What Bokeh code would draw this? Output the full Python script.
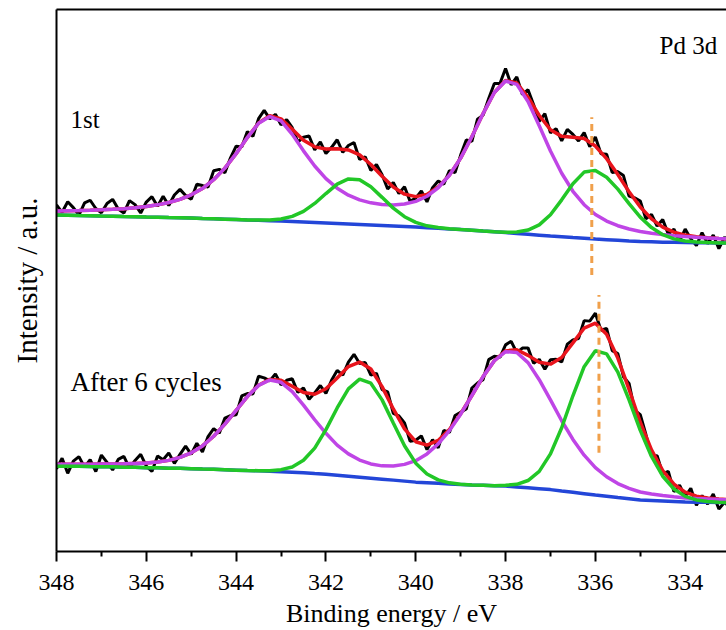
from bokeh.plotting import figure
from bokeh.models import Range1d, FixedTicker, LinearAxis
from bokeh.embed import file_html
from bokeh.resources import INLINE
from bokeh.core.properties import value

# ---------------- data ----------------
# binding energy grid of the fitted curves (eV)
fit_energy = [348.0, 347.75, 347.5, 347.25, 347.0, 346.75, 346.5, 346.25, 346.0, 345.75,
              345.5, 345.25, 345.0, 344.75, 344.5, 344.25, 344.0, 343.75, 343.5, 343.25,
              343.0, 342.75, 342.5, 342.25, 342.0, 341.75, 341.5, 341.25, 341.0, 340.75,
              340.5, 340.25, 340.0, 339.75, 339.5, 339.25, 339.0, 338.75, 338.5, 338.25,
              338.0, 337.75, 337.5, 337.25, 337.0, 336.75, 336.5, 336.25, 336.0, 335.75,
              335.5, 335.25, 335.0, 334.75, 334.5, 334.25, 334.0, 333.75, 333.5, 333.25, 333.0]

# binding energy grid of the measured spectra (eV)
raw_energy = [348.0, 347.875, 347.75, 347.625, 347.5, 347.375, 347.25, 347.125, 347.0, 346.875,
              346.75, 346.625, 346.5, 346.375, 346.25, 346.125, 346.0, 345.875, 345.75, 345.625,
              345.5, 345.375, 345.25, 345.125, 345.0, 344.875, 344.75, 344.625, 344.5, 344.375,
              344.25, 344.125, 344.0, 343.875, 343.75, 343.625, 343.5, 343.375, 343.25, 343.125,
              343.0, 342.875, 342.75, 342.625, 342.5, 342.375, 342.25, 342.125, 342.0, 341.875,
              341.75, 341.625, 341.5, 341.375, 341.25, 341.125, 341.0, 340.875, 340.75, 340.625,
              340.5, 340.375, 340.25, 340.125, 340.0, 339.875, 339.75, 339.625, 339.5, 339.375,
              339.25, 339.125, 339.0, 338.875, 338.75, 338.625, 338.5, 338.375, 338.25, 338.125,
              338.0, 337.875, 337.75, 337.625, 337.5, 337.375, 337.25, 337.125, 337.0, 336.875,
              336.75, 336.625, 336.5, 336.375, 336.25, 336.125, 336.0, 335.875, 335.75, 335.625,
              335.5, 335.375, 335.25, 335.125, 335.0, 334.875, 334.75, 334.625, 334.5, 334.375,
              334.25, 334.125, 334.0, 333.875, 333.75, 333.625, 333.5, 333.375, 333.25, 333.125, 333.0]

# ---- "1st" spectrum (upper) ----
first_background = [337.0, 336.8, 336.5, 336.3, 336.0, 335.8, 335.5, 335.3, 335.0, 334.8,
                    334.5, 334.3, 334.0, 333.6, 333.3, 332.9, 332.5, 332.1, 331.8, 331.4,
                    331.0, 330.5, 330.0, 329.5, 329.0, 328.5, 328.0, 327.5, 327.0, 326.5,
                    326.0, 325.5, 325.0, 324.4, 323.8, 323.1, 322.5, 321.8, 321.0, 320.3,
                    319.5, 318.6, 317.8, 316.9, 316.0, 315.3, 314.5, 313.8, 313.0, 312.4,
                    311.8, 311.1, 310.5, 310.2, 309.9, 309.7, 309.5, 309.4, 309.3, 309.1, 309.0]
first_pd0 = [337.0, 336.8, 336.5, 336.3, 336.0, 335.8, 335.5, 335.3, 335.0, 334.8,
             334.5, 334.3, 334.0, 333.6, 333.3, 332.9, 332.5, 332.1, 332.0, 332.2,
             333.1, 335.7, 340.7, 348.7, 358.6, 368.0, 373.3, 372.5, 365.4, 354.8,
             344.0, 335.4, 329.7, 326.3, 324.5, 323.3, 322.5, 321.8, 321.0, 320.3,
             319.9, 320.0, 322.0, 327.2, 337.3, 352.3, 368.5, 380.1, 381.6, 375.0,
             363.0, 348.5, 335.0, 324.5, 317.4, 313.2, 311.0, 310.0, 309.5, 309.1, 309.0]
first_pd2 = [341.2, 341.4, 341.6, 341.9, 342.3, 342.8, 343.5, 344.5, 345.6, 347.3,
             349.6, 352.8, 357.4, 363.6, 372.5, 384.1, 398.6, 414.7, 429.0, 435.7,
             431.3, 417.9, 401.4, 386.2, 373.6, 364.0, 357.0, 352.3, 349.3, 347.6,
             347.2, 348.1, 350.8, 355.9, 364.4, 376.9, 394.1, 415.5, 438.7, 459.8,
             471.4, 468.0, 450.9, 426.5, 401.2, 378.9, 360.9, 347.4, 337.6, 331.0,
             326.4, 323.1, 320.6, 318.9, 317.5, 316.4, 315.5, 314.8, 314.2, 313.5, 313.1]
first_envelope = [341.2, 341.4, 341.6, 341.9, 342.3, 342.8, 343.5, 344.5, 345.6, 347.3,
                  349.6, 352.8, 357.4, 363.6, 372.5, 384.1, 398.6, 414.7, 429.2, 436.5,
                  433.4, 423.1, 412.1, 405.4, 403.2, 403.5, 402.3, 397.3, 387.7, 375.9,
                  365.2, 358.0, 355.5, 357.8, 365.1, 377.1, 394.1, 415.5, 438.7, 459.8,
                  471.8, 469.4, 455.1, 436.8, 422.5, 415.9, 414.9, 413.7, 406.2, 393.6,
                  377.6, 360.5, 345.1, 333.2, 325.0, 319.9, 317.0, 315.4, 314.4, 313.5, 313.1]
first_measured = [347.2, 339.8, 350.4, 344.5, 337.1, 349.3, 351.9, 343.6, 339.3, 348.6,
                  352.8, 343.2, 339.0, 351.5, 347.5, 339.1, 350.1, 355.5, 345.8, 356.0,
                  346.6, 357.2, 362.8, 356.6, 352.9, 368.0, 366.6, 365.1, 381.5, 382.8,
                  379.6, 394.4, 406.1, 405.2, 420.7, 416.0, 433.7, 441.9, 433.5, 438.0,
                  427.4, 432.8, 424.6, 410.1, 415.1, 416.3, 402.4, 410.3, 398.7, 404.9,
                  412.5, 399.9, 406.8, 409.8, 392.8, 395.5, 381.7, 387.8, 377.4, 363.1,
                  369.7, 358.6, 365.5, 350.8, 354.0, 361.2, 350.3, 364.5, 371.1, 368.1,
                  381.6, 379.6, 397.1, 412.3, 411.0, 433.1, 437.2, 453.8, 468.8, 468.8,
                  483.8, 467.6, 475.4, 457.8, 462.6, 447.5, 430.8, 438.7, 419.5, 423.7,
                  411.4, 422.9, 417.9, 411.3, 419.7, 405.5, 415.2, 398.4, 398.1, 379.6,
                  380.6, 376.6, 356.0, 354.3, 351.1, 333.2, 337.7, 326.1, 332.5, 318.0,
                  322.9, 311.0, 323.0, 313.2, 306.4, 319.4, 308.4, 317.0, 303.5, 314.8, 308.6]

# ---- "After 6 cycles" spectrum (lower) ----
cycled_background = [85.5, 85.4, 85.3, 85.1, 85.0, 84.8, 84.5, 84.3, 84.0, 83.8,
                     83.5, 83.3, 83.0, 82.6, 82.3, 81.9, 81.5, 81.1, 80.8, 80.4,
                     80.0, 79.4, 78.8, 78.1, 77.5, 76.5, 75.5, 74.5, 73.5, 72.5,
                     71.5, 70.5, 69.5, 68.9, 68.3, 67.6, 67.0, 66.6, 66.3, 65.9,
                     65.5, 64.6, 63.8, 62.9, 62.0, 60.6, 59.3, 57.9, 56.5, 55.3,
                     54.0, 52.8, 51.5, 51.0, 50.5, 50.0, 49.5, 49.4, 49.3, 49.1, 49.0]
cycled_pd0 = [85.5, 85.4, 85.3, 85.1, 85.0, 84.8, 84.5, 84.3, 84.0, 83.8,
              83.5, 83.3, 83.0, 82.6, 82.3, 81.9, 81.5, 81.1, 81.0, 81.0,
              82.0, 84.7, 91.4, 103.6, 122.1, 143.8, 163.0, 172.7, 168.6, 151.9,
              128.7, 106.0, 88.5, 77.7, 71.8, 68.8, 67.4, 66.6, 66.3, 65.9,
              66.3, 67.3, 71.1, 80.3, 97.8, 124.0, 156.0, 185.2, 201.1, 198.0,
              179.7, 151.9, 121.4, 95.2, 75.4, 62.6, 55.2, 51.7, 50.1, 49.4, 49.1]
cycled_pd2 = [87.3, 87.4, 87.5, 87.5, 87.6, 87.7, 87.8, 88.2, 88.6, 89.7,
              91.3, 94.3, 98.9, 105.8, 115.5, 127.6, 141.4, 155.2, 166.4, 171.8,
              169.5, 160.2, 146.7, 132.0, 118.4, 106.6, 97.8, 91.6, 87.7, 85.8,
              85.6, 87.3, 91.0, 97.8, 107.8, 121.1, 137.6, 156.3, 175.2, 191.1,
              200.2, 199.4, 189.2, 172.1, 151.9, 131.0, 112.3, 96.5, 84.1, 74.9,
              68.1, 63.3, 59.6, 57.6, 56.1, 54.8, 53.7, 53.1, 52.7, 52.2, 51.8]
cycled_envelope = [87.3, 87.4, 87.5, 87.5, 87.6, 87.7, 87.8, 88.2, 88.6, 89.7,
                   91.3, 94.3, 98.9, 105.8, 115.5, 127.6, 141.4, 155.2, 166.6, 172.4,
                   171.5, 165.5, 159.3, 157.5, 163.0, 173.9, 185.3, 189.8, 182.8, 165.2,
                   142.8, 122.8, 110.0, 106.6, 111.3, 122.3, 138.0, 156.3, 175.2, 191.1,
                   201.0, 202.1, 196.5, 189.5, 187.7, 194.4, 209.0, 223.8, 228.7, 217.6,
                   193.8, 162.4, 129.5, 101.8, 81.0, 67.4, 59.4, 55.4, 53.5, 52.5, 51.9]
cycled_measured = [82.8, 93.4, 78.4, 90.5, 95.0, 84.5, 92.0, 80.1, 96.6, 89.2,
                   81.7, 92.3, 95.3, 83.5, 91.2, 97.4, 85.6, 80.2, 95.7, 92.0,
                   98.8, 88.3, 97.3, 105.6, 97.4, 108.4, 99.8, 115.2, 123.0, 118.6,
                   133.6, 136.0, 136.9, 155.8, 158.2, 157.9, 175.6, 174.0, 170.9, 178.0,
                   167.0, 171.5, 173.0, 159.4, 163.8, 152.4, 159.0, 166.3, 158.5, 171.5,
                   181.4, 176.6, 189.8, 197.6, 188.3, 189.3, 176.8, 178.5, 162.2, 160.0,
                   138.3, 135.8, 128.8, 110.4, 111.5, 115.8, 102.1, 112.0, 103.8, 121.3,
                   119.3, 136.2, 139.5, 142.7, 163.8, 168.8, 172.2, 192.2, 195.6, 194.6,
                   207.0, 210.6, 199.1, 203.8, 204.0, 188.5, 192.5, 182.6, 192.2, 192.6,
                   189.9, 207.7, 212.0, 213.4, 231.3, 230.8, 238.7, 221.7, 223.6, 201.2,
                   198.3, 175.1, 168.4, 141.5, 137.0, 117.2, 95.8, 95.9, 78.0, 80.2,
                   59.9, 66.4, 54.9, 63.4, 46.4, 56.0, 47.5, 57.5, 42.5, 49.2, 44.4]

# Pd(0) 3d5/2 positions (eV) and extent of the dashed markers
marker_energy = [336.08, 335.92]
marker_low = [277, 99]
marker_high = [435, 257]

# axis ticks
x_major_ticks = [348, 346, 344, 342, 340, 338, 336, 334]
x_minor_ticks = [347, 345, 343, 341, 339, 337, 335, 333]

# annotation texts and anchor positions
note_text = ["1st", "After 6 cycles", "Pd 3d"]
note_energy = [347.69, 347.69, 334.57]
note_level = [433, 170, 507]
note_size = ["25px", "27px", "25px"]

# ---------------- figure ----------------
SERIF = "Liberation Serif"
BLACK, RED, PURPLE, GREEN, BLUE, ORANGE = "#000000", "#E8141C", "#BF45E6", "#22C727", "#2346D8", "#F0A04B"

p = figure(width=726, height=630, x_range=Range1d(348, 333.08), y_range=Range1d(0, 543),
           output_backend="svg", toolbar_location=None,
           min_border_left=56, min_border_right=0, min_border_top=9, min_border_bottom=78,
           outline_line_color=None, background_fill_color="white", border_fill_color="white")
p.xgrid.visible = False
p.ygrid.visible = False

xa = p.xaxis[0]
xa.ticker = FixedTicker(ticks=x_major_ticks, minor_ticks=x_minor_ticks)
xa.major_tick_in = 0
xa.major_tick_out = 10
xa.minor_tick_in = 0
xa.minor_tick_out = 5
xa.axis_line_width = 2
xa.major_tick_line_width = 2
xa.minor_tick_line_width = 2
xa.major_label_text_font = SERIF
xa.major_label_text_font_size = "24px"
xa.major_label_text_color = BLACK
xa.major_label_standoff = 13
xa.axis_label = "Binding energy / eV"
xa.axis_label_text_font = SERIF
xa.axis_label_text_font_size = "26px"
xa.axis_label_text_font_style = "normal"
xa.axis_label_text_color = BLACK
xa.axis_label_standoff = 6

ya = p.yaxis[0]
ya.ticker = FixedTicker(ticks=[])
ya.axis_line_width = 2
ya.major_tick_line_color = None
ya.minor_tick_line_color = None
ya.major_label_text_font_size = "0px"
ya.axis_label = "Intensity / a.u."
ya.axis_label_text_font = SERIF
ya.axis_label_text_font_size = "29px"
ya.axis_label_text_font_style = "normal"
ya.axis_label_text_color = BLACK
ya.axis_label_standoff = 14

top_axis = LinearAxis(ticker=FixedTicker(ticks=[]), axis_line_width=2,
                      major_tick_line_color=None, minor_tick_line_color=None,
                      major_label_text_font_size="0px")
p.add_layout(top_axis, "above")

# measured spectra
p.line(raw_energy, first_measured, line_color=BLACK, line_width=3)
p.line(raw_energy, cycled_measured, line_color=BLACK, line_width=3)
# backgrounds
p.line(fit_energy, first_background, line_color=BLUE, line_width=3.5)
p.line(fit_energy, cycled_background, line_color=BLUE, line_width=3.5)
# envelopes
p.line(fit_energy, first_envelope, line_color=RED, line_width=3.5)
p.line(fit_energy, cycled_envelope, line_color=RED, line_width=3.5)
# Pd2+ components
p.line(fit_energy, first_pd2, line_color=PURPLE, line_width=3.5)
p.line(fit_energy, cycled_pd2, line_color=PURPLE, line_width=3.5)
# Pd0 components
p.line(fit_energy, first_pd0, line_color=GREEN, line_width=3.5)
p.line(fit_energy, cycled_pd0, line_color=GREEN, line_width=3.5)

# dashed markers
p.segment(x0=marker_energy, y0=marker_low, x1=marker_energy, y1=marker_high,
          line_color=ORANGE, line_width=3, line_dash="7 5")

# annotations
for t, xe, yl, fs in zip(note_text, note_energy, note_level, note_size):
    p.text(x=[xe], y=[yl], text=[t], text_font=value(SERIF), text_font_size=fs,
           text_color=BLACK, text_align="left", text_baseline="alphabetic")

open("out.html", "w").write(file_html(p, INLINE))
